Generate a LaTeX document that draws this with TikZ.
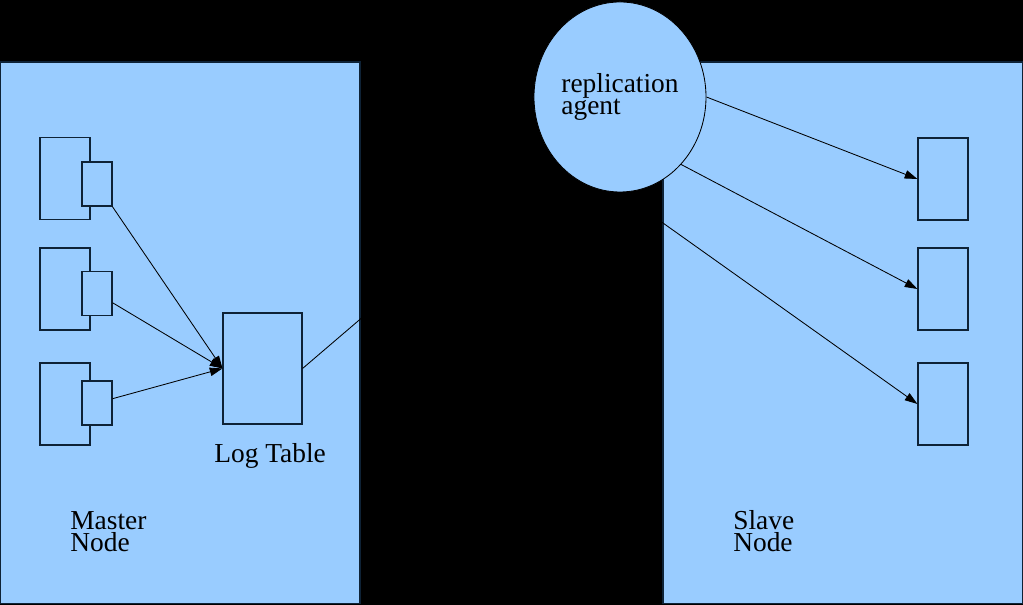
\documentclass[tikz,border=0pt]{standalone}
\usepackage{fontspec}
\setmainfont{Liberation Serif}
\usetikzlibrary{arrows.meta, shapes.geometric}
\definecolor{panelblue}{HTML}{99CCFF}
\definecolor{edgeblue}{HTML}{0E2236}

\begin{document}
\begin{tikzpicture}[x=0.025cm, y=-0.025cm,
    panel/.style={draw=edgeblue, fill=panelblue, line width=0.8pt},
    dbbox/.style={draw=edgeblue, fill=panelblue, line width=0.8pt, inner sep=0pt,
                  minimum width=1.25cm, minimum height=2.05cm},
    tab/.style={draw=edgeblue, fill=panelblue, line width=0.8pt, inner sep=0pt,
                minimum width=0.75cm, minimum height=1.1cm},
    logbox/.style={draw=edgeblue, fill=panelblue, line width=0.8pt, inner sep=0pt,
                   minimum width=1.975cm, minimum height=2.775cm},
    agentnode/.style={ellipse, draw=black, fill=panelblue, line width=0.6pt, inner sep=0pt,
                      minimum width=4.3cm, minimum height=4.75cm, align=left,
                      font=\fontsize{19.5}{16}\selectfont},
    lbl/.style={font=\fontsize{19.5}{16}\selectfont, align=left, inner sep=0pt, anchor=base west},
    flow/.style={draw=black, line width=0.6pt, -{Triangle[length=9pt, width=6pt]}},
]
    \fill[black] (0,0) rectangle (1023,605);

    \draw[panel] (0.5,62) rectangle (360,603.5);
    \draw[panel] (663,62) rectangle (1022.5,603.5);

    \node[dbbox] (m1) at (65,178.5) {};
    \node[tab] (t1) at (97,184) {};
    \node[dbbox] (m2) at (65,289) {};
    \node[tab] (t2) at (97,293.5) {};
    \node[dbbox] (m3) at (65,404) {};
    \node[tab] (t3) at (97,403) {};

    \node[logbox] (log) at (262.5,368.5) {};
    \node[lbl] (loglbl) at (214,463) {Log Table};

    \node[dbbox] (s1) at (943,179) {};
    \node[dbbox] (s2) at (943,289) {};
    \node[dbbox] (s3) at (943,404) {};

    % base anchor sits on the last line
    \node[lbl] (master) at (70,552) {Master\\Node};
    \node[lbl] (slave) at (733,552) {Slave\\Node};

    \node[agentnode] (agent) at (620,97) {replication\\agent};
    \draw[draw=black, line width=0.6pt] (log.east) -- (agent);

    \draw[flow] (t1) -- (log.west);
    \draw[flow] (t2) -- (log.west);
    \draw[flow] (t3) -- (log.west);

    \draw[flow] (agent.east) -- (s1.west);
    \draw[flow] (agent.south east) -- (s2.west);
    \draw[flow] (agent.south) -- (s3.west);
\end{tikzpicture}
\end{document}
